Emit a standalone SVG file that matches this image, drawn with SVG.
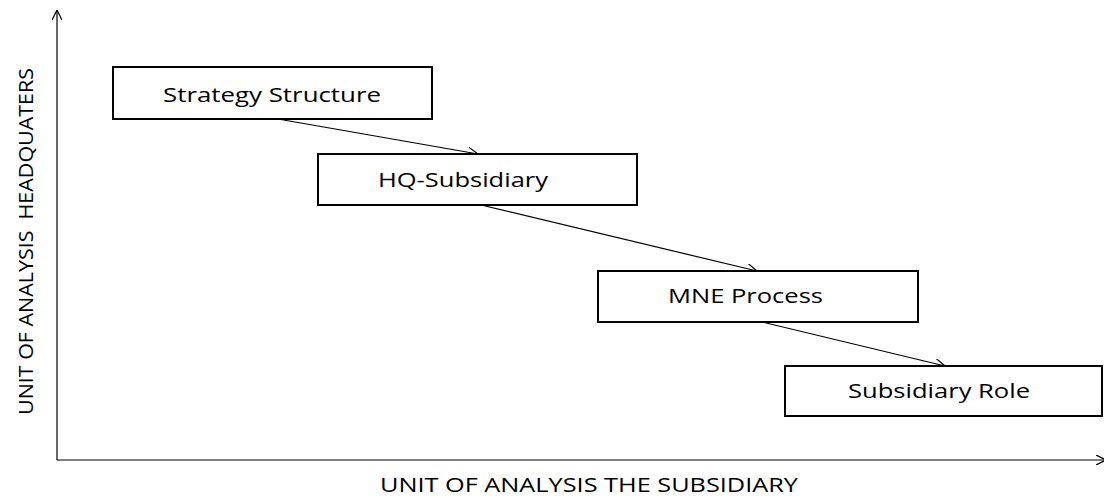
<svg xmlns="http://www.w3.org/2000/svg" width="1104" height="498" viewBox="0 0 1104 498">
<style>
.box{fill:#fff;stroke:#000;stroke-width:2}
.lbl{font-family:"Open Sans","Liberation Sans",sans-serif;font-size:20px;fill:#000}
.ln{stroke:#000;stroke-width:1.2;fill:none}
</style>
<defs>
<marker id="ah" viewBox="0 0 10 10" refX="10" refY="5" markerWidth="10" markerHeight="10" markerUnits="userSpaceOnUse" orient="auto">
<path d="M0,0 L10,5 L0,10" fill="none" stroke="#000" stroke-width="1.2"/>
</marker>
</defs>
<rect width="1104" height="498" fill="#fff"/>
<g id="axes">
<line class="ln" x1="57" y1="460" x2="57" y2="10" marker-end="url(#ah)"/>
<line class="ln" x1="57" y1="460" x2="1106" y2="460" marker-end="url(#ah)"/>
<text class="lbl" x="380" y="492" textLength="418" lengthAdjust="spacingAndGlyphs">UNIT OF ANALYSIS THE SUBSIDIARY</text>
<text class="lbl" transform="translate(33,415) rotate(-90)" textLength="347" lengthAdjust="spacingAndGlyphs" xml:space="preserve">UNIT OF ANALYSIS  HEADQUATERS</text>
</g>
<g id="connectors">
<line class="ln" x1="278" y1="119" x2="478" y2="154" marker-end="url(#ah)"/>
<line class="ln" x1="481" y1="205" x2="757" y2="271" marker-end="url(#ah)"/>
<line class="ln" x1="762" y1="322" x2="945" y2="366" marker-end="url(#ah)"/>
</g>
<g id="strategy-structure">
<rect class="box" x="113" y="67" width="319" height="52"/>
<text class="lbl" x="163" y="102" textLength="218" lengthAdjust="spacingAndGlyphs">Strategy Structure</text>
</g>
<g id="hq-subsidiary">
<rect class="box" x="318" y="154" width="319" height="51"/>
<text class="lbl" x="378" y="187" textLength="170" lengthAdjust="spacingAndGlyphs">HQ-Subsidiary</text>
</g>
<g id="mne-process">
<rect class="box" x="598" y="271" width="320" height="51"/>
<text class="lbl" x="668" y="303" textLength="155" lengthAdjust="spacingAndGlyphs">MNE Process</text>
</g>
<g id="subsidiary-role">
<rect class="box" x="785" y="366" width="317" height="50"/>
<text class="lbl" x="848" y="398" textLength="182" lengthAdjust="spacingAndGlyphs">Subsidiary Role</text>
</g>
</svg>
